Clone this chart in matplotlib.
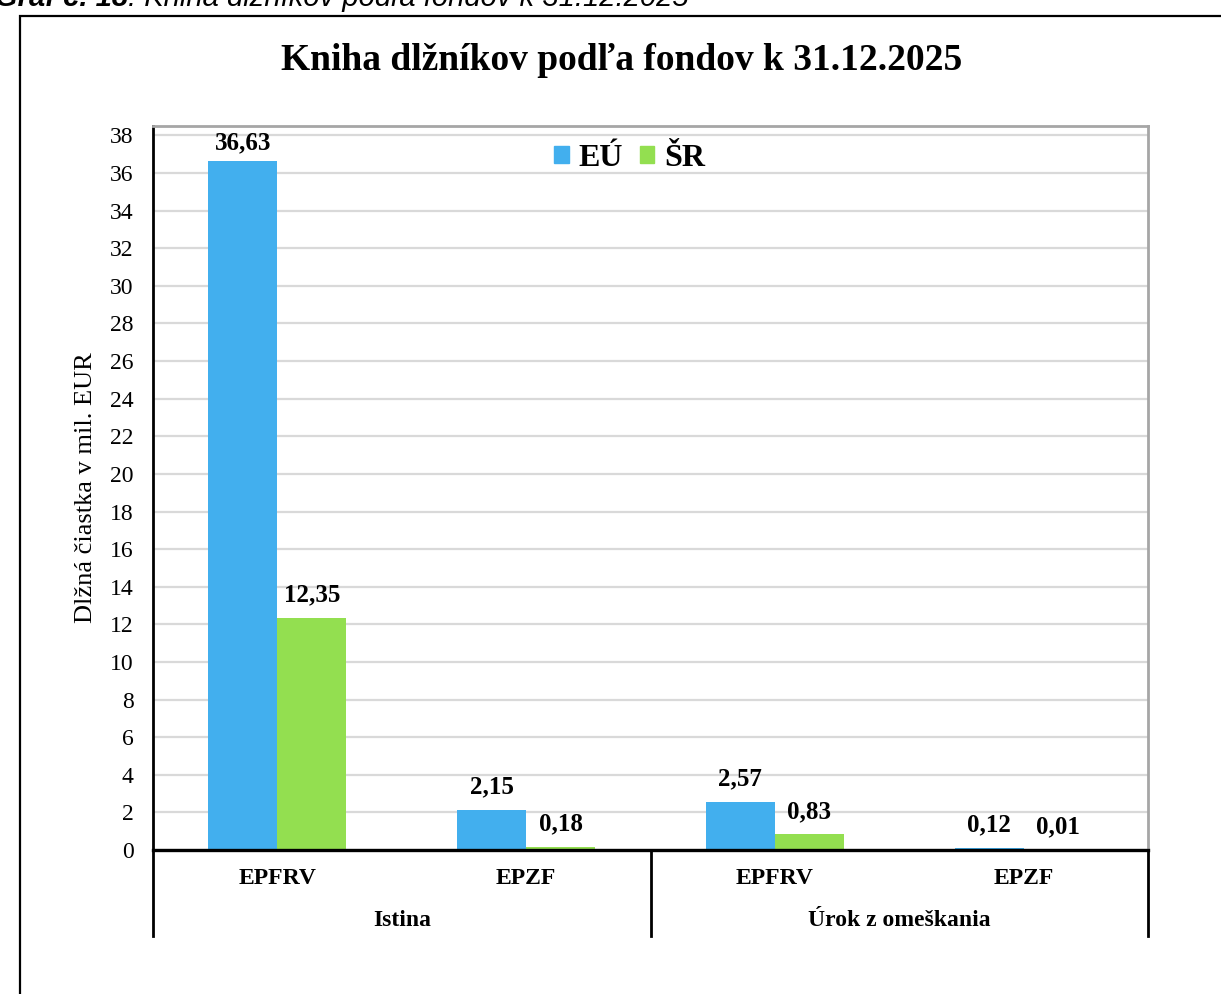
import numpy as np
import matplotlib.pyplot as plt
from matplotlib.lines import Line2D
from matplotlib.patches import Rectangle, Patch

# data
categories = ['EPFRV', 'EPZF', 'EPFRV', 'EPZF']
groups = ['Istina', 'Úrok z omeškania']
eu_values = [36.63, 2.15, 2.57, 0.12]
sr_values = [12.35, 0.18, 0.83, 0.01]
series_names = ['EÚ', 'ŠR']

BLUE = '#42AFEE'
GREEN = '#93DF50'
SERIF = 'Liberation Serif'

W, H = 1221, 994
fig = plt.figure(figsize=(W / 100, H / 100), dpi=100)

# outer chart border (partly outside of the picture)
fig.patches.append(Rectangle((20 / W, -0.2), 1.2, 1.2 - 16 / H, transform=fig.transFigure,
                             fill=False, edgecolor='black', linewidth=1.6))

# caption, cut off at the top like in the source document
cap1 = fig.text(-0.004, 1 - 6 / H, 'Graf č. 18', fontsize=21, fontstyle='italic',
                fontweight='bold', family='Liberation Sans', va='baseline', ha='left')
fig.canvas.draw()
bb = cap1.get_window_extent()
fig.text(bb.x1 / W, 1 - 6 / H, ': Kniha dlžníkov podľa fondov k 31.12.2025', fontsize=21,
         fontstyle='italic', family='Liberation Sans', va='baseline', ha='left')

ax = fig.add_axes([153 / W, 144 / H, (1148 - 153) / W, 724 / H])

x = np.arange(len(categories))
bw = 0.277
b1 = ax.bar(x - bw / 2, eu_values, bw, color=BLUE, label=series_names[0])
b2 = ax.bar(x + bw / 2, sr_values, bw, color=GREEN, label=series_names[1])

for bars, vals in ((b1, eu_values), (b2, sr_values)):
    for r, v in zip(bars, vals):
        # the tallest label is pushed down a little so it stays in the plot area
        off = 5 if v > 36 else 8
        ax.annotate(f'{v:.2f}'.replace('.', ','), (r.get_x() + r.get_width() / 2, v),
                    xytext=(0, off), textcoords='offset points', ha='center', va='bottom',
                    fontsize=18, fontweight='bold', family=SERIF)

ax.set_xlim(-0.5, len(categories) - 0.5)
ax.set_ylim(0, 38.5)
ax.set_yticks(np.arange(0, 39, 2))
ax.tick_params(axis='y', length=0, pad=14, labelsize=17)
for lab in ax.get_yticklabels():
    lab.set_family(SERIF)
ax.set_xticks([])
ax.yaxis.grid(True, color='#D9D9D9', linewidth=1.6)
ax.set_axisbelow(True)

ax.spines['left'].set_color('black')
ax.spines['left'].set_linewidth(2)
ax.spines['bottom'].set_color('black')
ax.spines['bottom'].set_linewidth(2.4)
for s in ('top', 'right'):
    ax.spines[s].set_color('#A6A6A6')
    ax.spines[s].set_linewidth(2)

ax.set_ylabel('Dlžná čiastka v mil. EUR', fontsize=19, family=SERIF, labelpad=9)

# category table below the axis
depth = -86 / 724
for xa in (0, 0.5, 1):
    ax.add_line(Line2D([xa, xa], [0, depth], transform=ax.transAxes, color='black',
                       linewidth=2, clip_on=False))
for i, c in enumerate(categories):
    ax.text((i + 0.5) / len(categories), -28 / 724, c, transform=ax.transAxes, ha='center',
            va='center', fontsize=17, fontweight='bold', family=SERIF)
for j, g in enumerate(groups):
    ax.text(0.25 + 0.5 * j, -71 / 724, g, transform=ax.transAxes, ha='center', va='center',
            fontsize=17, fontweight='bold', family=SERIF)

handles = [Patch(color=BLUE), Patch(color=GREEN)]
ax.legend(handles, series_names, loc='upper center', bbox_to_anchor=(0.479, 1.0), ncol=2,
          frameon=False, prop={'family': SERIF, 'weight': 'bold', 'size': 23},
          handlelength=0.45, handleheight=0.45, handletextpad=0.3, columnspacing=0.55,
          borderaxespad=0.15)

fig.text(622 / W, 1 - 60 / H, 'Kniha dlžníkov podľa fondov k 31.12.2025', ha='center',
         va='center', fontsize=27, fontweight='bold', family=SERIF)

fig.savefig('out.png', dpi=100)
